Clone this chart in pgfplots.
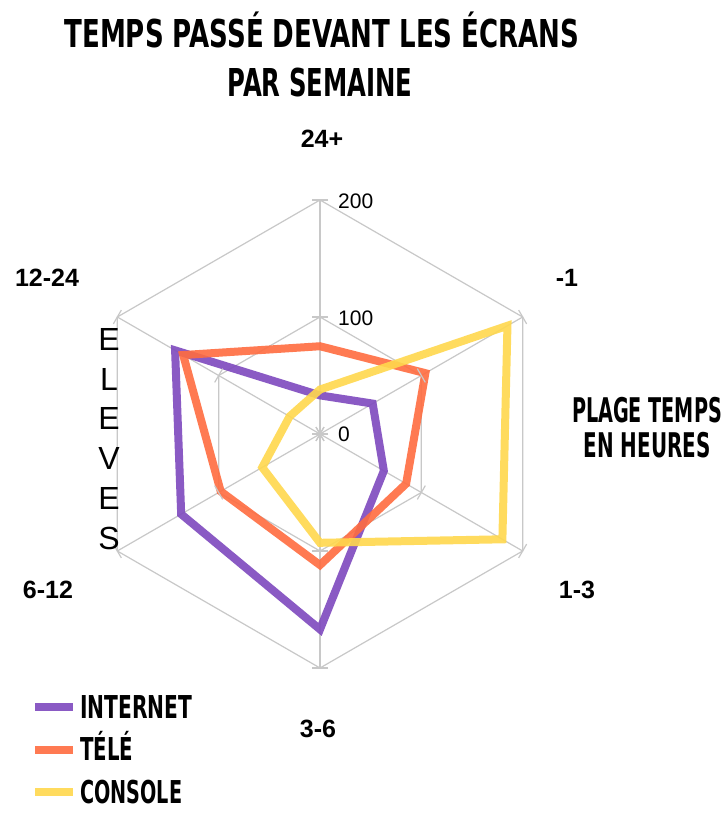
\documentclass[border=0pt]{standalone}
\usepackage{pgfplots}
\pgfplotsset{compat=1.18}
\usepgfplotslibrary{polar}
\usepackage{fontspec}
\setmainfont{Liberation Sans}
\newfontfamily\titlefont{DejaVu Sans}
\definecolor{cint}{RGB}{126,73,190}
\definecolor{ctele}{RGB}{255,108,64}
\definecolor{ccons}{RGB}{255,216,77}
\definecolor{cgrid}{RGB}{200,200,200}
\newcommand{\cond}[3]{\resizebox{#1}{\height}{\titlefont\bfseries\fontsize{#2}{#2}\selectfont #3}}
\begin{document}
\begin{tikzpicture}[x=1pt,y=1pt]
\path[use as bounding box, fill=white] (0,0) rectangle (726,814);
\begin{polaraxis}[
  at={(320pt,380pt)}, anchor=origin,
  width=468pt, height=468pt, scale only axis,
  xmin=0, xmax=360, ymin=0, ymax=200,
  hide axis, clip=false,
  legend style={at={(axis description cs:-0.1175,-0.0555)}, anchor=north west,
    draw=none, fill=none, inner sep=0pt, row sep=18.5pt, column sep=3pt,
    nodes={inner sep=0pt, text height=24pt, text depth=0pt, anchor=base west}},
  legend cell align=left,
  legend image code/.code={\draw[#1] (0pt,11pt) -- (38pt,11pt);},
]
% grid rings
\addplot[cgrid, line width=1.2pt, forget plot] coordinates {(90,200)(30,200)(330,200)(270,200)(210,200)(150,200)(90,200)(30,200)};
\addplot[cgrid, line width=1.2pt, forget plot] coordinates {(90,100)(30,100)(330,100)(270,100)(210,100)(150,100)(90,100)(30,100)};
% spokes with ticks
\addplot[cgrid, line width=1.2pt, mark=-, mark size=8pt, mark options={rotate=0}, forget plot] coordinates {(90,0)(90,100)(90,200)};
\addplot[cgrid, line width=1.2pt, mark=-, mark size=8pt, mark options={rotate=-60}, forget plot] coordinates {(30,0)(30,100)(30,200)};
\addplot[cgrid, line width=1.2pt, mark=-, mark size=8pt, mark options={rotate=-120}, forget plot] coordinates {(330,0)(330,100)(330,200)};
\addplot[cgrid, line width=1.2pt, mark=-, mark size=8pt, mark options={rotate=0}, forget plot] coordinates {(270,0)(270,100)(270,200)};
\addplot[cgrid, line width=1.2pt, mark=-, mark size=8pt, mark options={rotate=120}, forget plot] coordinates {(210,0)(210,100)(210,200)};
\addplot[cgrid, line width=1.2pt, mark=-, mark size=8pt, mark options={rotate=60}, forget plot] coordinates {(150,0)(150,100)(150,200)};
% data: (angle, value); 24+ = 90, -1 = 30, 1-3 = 330, 3-6 = 270, 6-12 = 210, 12-24 = 150
\addplot[cint, line width=8pt, line join=miter, opacity=0.9] coordinates {(90,33)(30,52)(330,63)(270,167)(210,137)(150,143)(90,33)(30,52)};
\addlegendentry{\cond{112pt}{31.5}{INTERNET}}
\addplot[ctele, line width=8pt, line join=miter, opacity=0.9] coordinates {(90,75)(30,104)(330,85)(270,112)(210,98)(150,135)(90,75)(30,104)};
\addlegendentry{\cond{53pt}{31.5}{TÉLÉ}}
\addplot[ccons, line width=8pt, line join=miter, opacity=0.9] coordinates {(90,38)(30,185)(330,180)(270,93)(210,57)(150,30)(90,38)(30,185)};
\addlegendentry{\cond{102pt}{31.5}{CONSOLE}}
\end{polaraxis}
% title
\node[anchor=base, inner sep=0pt] at (322,814-48) {\cond{515pt}{38.4}{TEMPS PASSÉ DEVANT LES ÉCRANS}};
\node[anchor=base, inner sep=0pt] at (320,814-97) {\cond{185pt}{38.4}{PAR SEMAINE}};
% side title
\node[anchor=base, inner sep=0pt] at (647,814-423) {\cond{150pt}{34}{PLAGE TEMPS}};
\node[anchor=base, inner sep=0pt] at (647,814-458) {\cond{127pt}{34}{EN HEURES}};
% category labels
\begin{scope}[every node/.style={inner sep=0pt, font=\bfseries\fontsize{25}{30}\selectfont}]
\node at (322,814-139) {24+};
\node at (567,814-278) {-1};
\node at (577,814-590) {1-3};
\node at (318,814-729) {3-6};
\node at (48,814-590) {6-12};
\node at (47,814-278) {12-24};
\end{scope}
% value labels
\begin{scope}[every node/.style={inner sep=0pt, anchor=west, font=\fontsize{21}{25}\selectfont}]
\node at (338,814-201) {200};
\node at (338,814-318) {100};
\node at (338,814-434) {0};
\end{scope}
% vertical ELEVES
\node[inner sep=0pt, align=center, font=\fontsize{32}{39.7}\selectfont] at (109,814-439) {E\\L\\E\\V\\E\\S};
\end{tikzpicture}
\end{document}
